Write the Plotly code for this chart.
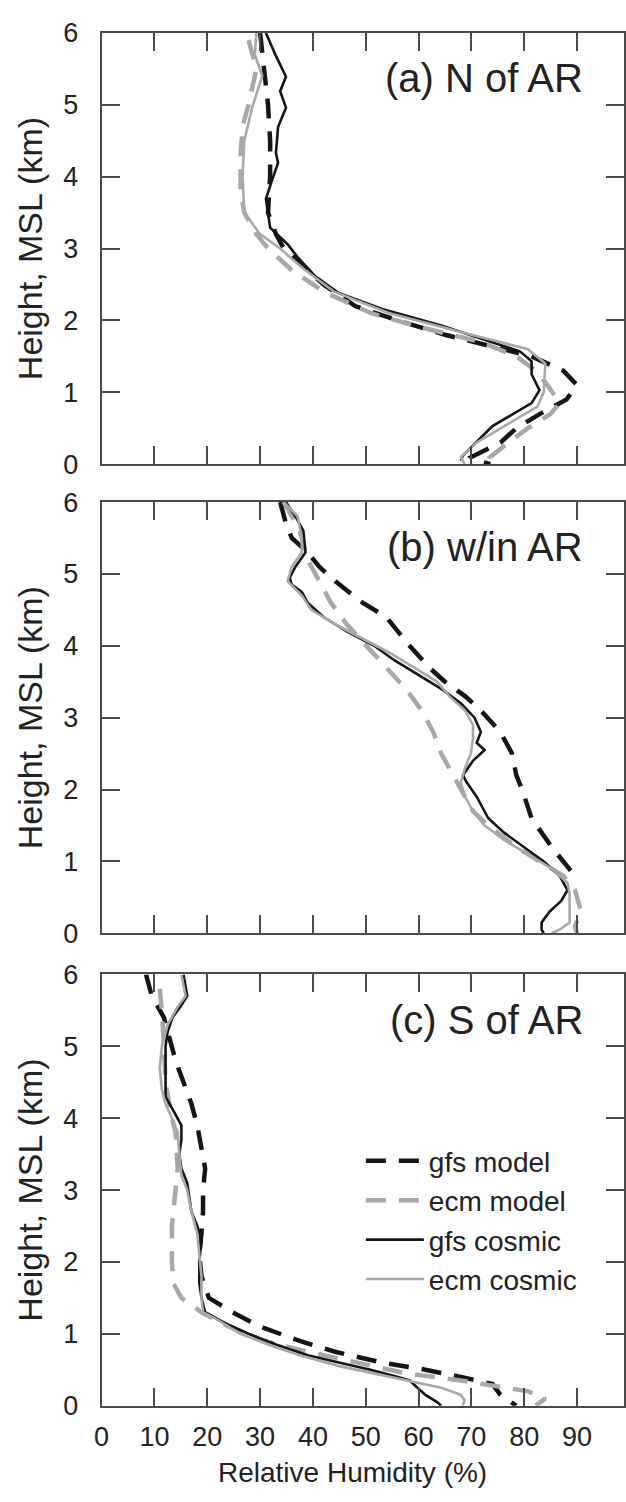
import plotly.graph_objects as go

# ---------------- data (relative humidity % vs height km) ----------------
# Panel (a) N of AR
a_gfs_model_h = [6.0, 5.5, 5.0, 4.5, 4.0, 3.5, 3.2, 3.0, 2.8, 2.5, 2.2, 2.0, 1.8, 1.6, 1.5, 1.3, 1.1, 0.9, 0.7, 0.5, 0.3, 0.1, 0.05, 0.0]
a_gfs_model_rh = [30.0, 30.8, 31.5, 31.9, 31.9, 31.5, 33.0, 34.5, 37.5, 42.0, 48.0, 56.0, 65.0, 76.0, 81.4, 87.4, 90.0, 88.0, 83.0, 78.5, 75.5, 70.0, 71.0, 73.6]
a_ecm_model_h = [5.9, 5.5, 5.0, 4.7, 4.3, 3.8, 3.5, 3.2, 3.0, 2.7, 2.4, 2.1, 1.9, 1.7, 1.5, 1.3, 1.1, 0.85, 0.7, 0.5, 0.3, 0.1, 0.0]
a_ecm_model_rh = [27.8, 29.3, 27.8, 26.7, 26.3, 26.3, 27.0, 29.3, 31.5, 36.0, 42.0, 51.0, 60.6, 71.8, 78.5, 82.2, 84.4, 86.7, 85.0, 80.7, 77.0, 73.6, 75.5]
a_gfs_cosmic_h = [6.0, 5.68, 5.39, 5.19, 4.96, 4.69, 4.33, 4.19, 3.96, 3.69, 3.29, 3.06, 2.88, 2.61, 2.38, 2.16, 1.93, 1.70, 1.57, 1.43, 1.25, 1.03, 0.85, 0.53, 0.21, 0.12, 0.05]
a_gfs_cosmic_rh = [31.1, 33.0, 34.9, 33.8, 34.9, 33.4, 33.0, 33.4, 32.3, 31.1, 31.9, 35.2, 37.1, 40.5, 44.9, 53.1, 64.3, 74.0, 79.2, 81.4, 81.4, 82.9, 81.4, 74.0, 69.5, 68.4, 68.0]
a_ecm_cosmic_h = [6.0, 5.7, 5.4, 4.96, 4.5, 4.0, 3.5, 3.2, 3.0, 2.7, 2.4, 2.1, 1.8, 1.6, 1.4, 1.0, 0.8, 0.5, 0.3, 0.1, 0.0]
a_ecm_cosmic_rh = [29.3, 29.0, 30.4, 28.5, 27.0, 26.7, 27.0, 30.0, 33.8, 38.5, 44.0, 54.5, 70.0, 80.7, 84.0, 83.7, 82.5, 75.5, 71.0, 68.0, 68.7]

# Panel (b) w/in AR
b_gfs_model_h = [6.0, 5.7, 5.5, 5.3, 5.1, 4.9, 4.6, 4.4, 4.0, 3.7, 3.5, 3.3, 3.1, 2.8, 2.5, 2.2, 2.0, 1.6, 1.2, 0.9, 0.8, 0.75]
b_gfs_model_rh = [33.8, 34.9, 36.0, 39.0, 41.2, 44.2, 49.4, 53.9, 58.3, 62.0, 65.0, 68.8, 71.8, 75.5, 77.7, 78.5, 79.6, 81.4, 85.2, 88.5, 89.6, 89.6]
b_ecm_model_h = [6.0, 5.6, 5.2, 4.9, 4.6, 4.3, 4.0, 3.7, 3.4, 3.1, 2.8, 2.5, 2.2, 2.0, 1.7, 1.5, 1.2, 1.0, 0.8, 0.6, 0.3, 0.1, 0.0]
b_ecm_model_rh = [34.5, 37.5, 39.0, 41.2, 43.4, 46.4, 50.2, 53.9, 57.6, 60.6, 62.8, 64.3, 66.5, 68.0, 70.3, 73.2, 78.5, 82.9, 87.4, 89.6, 90.8, 89.6, 90.0]
b_gfs_cosmic_h = [6.0, 5.8, 5.6, 5.3, 5.1, 4.95, 4.85, 4.75, 4.6, 4.4, 4.2, 4.0, 3.8, 3.6, 3.4, 3.2, 3.0, 2.8, 2.65, 2.55, 2.4, 2.2, 2.1, 1.9, 1.6, 1.4, 1.2, 1.0, 0.8, 0.6, 0.45, 0.3, 0.15, 0.05, 0.0]
b_gfs_cosmic_rh = [34.9, 36.7, 38.2, 38.6, 36.7, 35.6, 36.0, 37.9, 39.0, 42.0, 46.4, 51.6, 55.4, 59.8, 64.3, 68.0, 70.6, 71.8, 71.0, 72.5, 70.3, 68.4, 69.1, 71.0, 73.2, 76.2, 80.0, 83.7, 86.7, 88.2, 87.0, 84.8, 83.3, 83.3, 83.7]
b_ecm_cosmic_h = [6.0, 5.8, 5.5, 5.3, 5.1, 4.9, 4.7, 4.5, 4.3, 4.1, 3.9, 3.7, 3.5, 3.3, 3.1, 2.9, 2.7, 2.5, 2.3, 2.1, 1.9, 1.7, 1.5, 1.3, 1.1, 0.9, 0.7, 0.55, 0.3, 0.15, 0.05, 0.0]
b_ecm_cosmic_rh = [34.5, 37.1, 37.9, 37.9, 36.0, 35.2, 37.9, 39.7, 44.2, 49.4, 54.6, 59.1, 63.5, 65.8, 68.8, 70.3, 70.3, 69.9, 68.8, 68.0, 68.8, 70.3, 72.5, 76.2, 80.7, 85.2, 88.2, 88.6, 88.6, 88.6, 86.7, 85.2]

# Panel (c) S of AR
c_gfs_model_h = [6.0, 5.7, 5.4, 5.1, 4.8, 4.5, 4.2, 3.9, 3.6, 3.3, 3.0, 2.7, 2.4, 2.1, 1.8, 1.5, 1.3, 1.1, 0.9, 0.75, 0.6, 0.5, 0.4, 0.3, 0.15, 0.0]
c_gfs_model_rh = [8.4, 9.5, 11.8, 12.9, 14.0, 15.5, 17.0, 18.1, 18.9, 19.6, 19.2, 19.2, 18.9, 18.5, 18.9, 20.3, 24.8, 30.0, 37.5, 44.2, 53.1, 61.3, 68.0, 74.0, 75.5, 78.5]
c_ecm_model_h = [5.8, 5.5, 5.0, 4.5, 4.0, 3.8, 3.3, 3.0, 2.5, 2.0, 1.7, 1.5, 1.3, 1.1, 0.9, 0.75, 0.6, 0.45, 0.35, 0.25, 0.2, 0.1, 0.03, 0.0]
c_ecm_model_rh = [11.0, 11.4, 11.8, 12.1, 13.3, 14.0, 14.4, 14.0, 13.3, 13.3, 13.6, 15.1, 18.9, 24.1, 30.8, 39.0, 47.9, 57.6, 68.0, 76.2, 80.7, 84.0, 82.5, 82.2]
c_gfs_cosmic_h = [6.0, 5.7, 5.55, 5.4, 5.2, 5.0, 4.8, 4.5, 4.3, 4.1, 3.9, 3.7, 3.5, 3.3, 3.1, 2.9, 2.7, 2.5, 2.3, 2.0, 1.7, 1.5, 1.3, 1.15, 1.0, 0.85, 0.7, 0.6, 0.5, 0.4, 0.35, 0.25, 0.15, 0.05, 0.0]
c_gfs_cosmic_rh = [15.5, 16.2, 14.9, 13.4, 12.5, 12.1, 12.1, 12.1, 12.1, 13.6, 15.1, 15.1, 14.7, 15.1, 16.2, 16.6, 17.0, 18.1, 18.9, 18.5, 18.5, 18.9, 19.6, 23.3, 27.8, 33.0, 39.0, 44.9, 50.9, 56.1, 58.3, 59.8, 61.3, 63.5, 64.3]
c_ecm_cosmic_h = [6.0, 5.7, 5.55, 5.3, 5.0, 4.7, 4.4, 4.2, 4.0, 3.8, 3.5, 3.2, 3.0, 2.7, 2.4, 2.1, 1.8, 1.5, 1.3, 1.2, 1.0, 0.85, 0.7, 0.55, 0.45, 0.35, 0.25, 0.15, 0.08, 0.0]
c_ecm_cosmic_rh = [15.1, 15.9, 14.4, 12.5, 11.4, 11.0, 11.4, 12.1, 13.3, 14.4, 14.7, 15.1, 16.2, 17.0, 18.1, 18.5, 18.9, 18.9, 19.2, 21.8, 26.3, 31.5, 37.5, 45.0, 51.6, 58.3, 64.3, 68.0, 68.7, 68.4]

panel_labels = ["(a) N of AR", "(b) w/in AR", "(c) S of AR"]
series_names = ["gfs model", "ecm model", "gfs cosmic", "ecm cosmic"]
x_ticks = [0, 10, 20, 30, 40, 50, 60, 70, 80, 90]
y_ticks = [0, 1, 2, 3, 4, 5, 6]

panels = [
    [(a_gfs_model_rh, a_gfs_model_h), (a_ecm_model_rh, a_ecm_model_h),
     (a_gfs_cosmic_rh, a_gfs_cosmic_h), (a_ecm_cosmic_rh, a_ecm_cosmic_h)],
    [(b_gfs_model_rh, b_gfs_model_h), (b_ecm_model_rh, b_ecm_model_h),
     (b_gfs_cosmic_rh, b_gfs_cosmic_h), (b_ecm_cosmic_rh, b_ecm_cosmic_h)],
    [(c_gfs_model_rh, c_gfs_model_h), (c_ecm_model_rh, c_ecm_model_h),
     (c_gfs_cosmic_rh, c_gfs_cosmic_h), (c_ecm_cosmic_rh, c_ecm_cosmic_h)],
]

# ---------------- styling ----------------
W, H = 626, 1502
FONT = "Liberation Sans, Arial, Helvetica, sans-serif"
BLACK = "#151515"
GREY = "#a8a8a8"
AXC = "#4a4a4a"
TXT = "#222222"

styles = [
    dict(color=BLACK, width=4.5, dash="20px,13px"),
    dict(color=GREY, width=4.5, dash="20px,13px"),
    dict(color=BLACK, width=2.6, dash="solid"),
    dict(color=GREY, width=2.6, dash="solid"),
]

x_dom = [95 / W, 625 / W]
panel_px = [(18.3, 458.3), (497.0, 937.0), (979.0, 1419.0)]
y_doms = [[1 - b / H, 1 - t / H] for (t, b) in panel_px]

fig = go.Figure()
for p, series in enumerate(panels):
    xa = "x" if p == 0 else f"x{p + 1}"
    ya = "y" if p == 0 else f"y{p + 1}"
    for s, (rh, h) in enumerate(series):
        fig.add_trace(go.Scatter(
            x=rh, y=h, mode="lines", xaxis=xa, yaxis=ya,
            name=series_names[s], line=styles[s],
            showlegend=(p == 2),
        ))

axis_common = dict(
    showline=True, linecolor=AXC, linewidth=2, mirror="ticks",
    ticks="inside", ticklen=18, tickwidth=2, tickcolor=AXC,
    showgrid=False, zeroline=False,
    tickfont=dict(family=FONT, size=27, color=TXT),
)

layout = dict(
    width=W, height=H,
    margin=dict(l=0, r=0, t=0, b=0),
    paper_bgcolor="white", plot_bgcolor="white",
    font=dict(family=FONT, color=TXT),
    showlegend=True,
    legend=dict(
        x=358 / W, y=1 - 1144 / H, xanchor="left", yanchor="top",
        bgcolor="rgba(0,0,0,0)", borderwidth=0,
        font=dict(family=FONT, size=28, color=TXT),
        itemwidth=58, tracegroupgap=0,
    ),
)

for p in range(3):
    xk = "xaxis" if p == 0 else f"xaxis{p + 1}"
    yk = "yaxis" if p == 0 else f"yaxis{p + 1}"
    ya = "y" if p == 0 else f"y{p + 1}"
    xa = "x" if p == 0 else f"x{p + 1}"
    layout[xk] = dict(
        axis_common, domain=x_dom, anchor=ya, range=[0, 98.9],
        tickvals=x_ticks, showticklabels=(p == 2), ticklabelstandoff=6,
    )
    layout[yk] = dict(
        axis_common, domain=y_doms[p], anchor=xa, range=[0, 6],
        tickvals=y_ticks, ticklabelstandoff=16,
        title=dict(text="Height, MSL (km)",
                   font=dict(family=FONT, size=34, color=TXT), standoff=10),
    )

fig.update_layout(**layout)

for p in range(3):
    xa = "x" if p == 0 else f"x{p + 1}"
    ya = "y" if p == 0 else f"y{p + 1}"
    fig.add_annotation(
        text=panel_labels[p], xref=f"{xa} domain", yref=f"{ya} domain",
        x=0.925, y=0.895, xanchor="right", yanchor="middle", showarrow=False,
        font=dict(family=FONT, size=40, color=TXT),
    )

# x-axis title of the bottom panel
fig.add_annotation(
    text="Relative Humidity (%)", xref="paper", yref="paper",
    x=350 / W, y=1 - 1487 / H, xanchor="center", yanchor="middle",
    showarrow=False, font=dict(family=FONT, size=28, color=TXT),
)

fig.write_html("out.html")
